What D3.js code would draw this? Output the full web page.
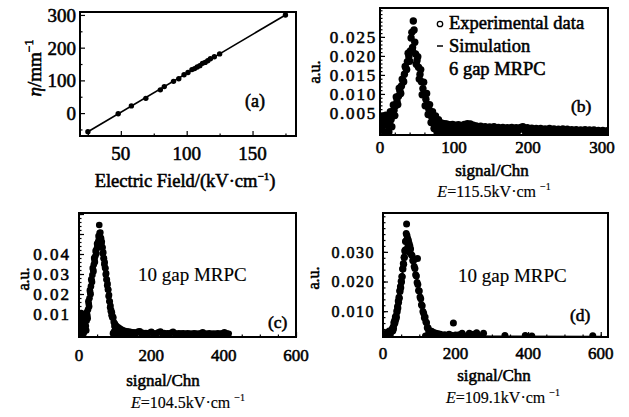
<!DOCTYPE html>
<html>
<head>
<meta charset="utf-8">
<script src="https://cdn.jsdelivr.net/npm/d3@7"></script>
<style>
  body { margin: 0; background: #fff; }
  svg text { font-family: "Liberation Serif", "Times New Roman", serif; font-weight: normal; fill: #000;
             stroke: #000; stroke-width: 0.55px; }
  svg text.light { stroke-width: 0.15px; }
</style>
</head>
<body>
<div id="chart"></div>
<script>
// ---- data: (a) gain vs field ----
var fieldKV = [25, 48, 58, 69, 80, 83, 90, 94, 98, 101, 104, 106, 108, 110, 112, 114, 116, 118, 121, 125, 175];
var etaVal  = [-57, -2, 22, 45, 71, 81, 97, 105, 117, 124, 133, 136, 141, 145, 152, 155, 160, 166, 172, 181, 300];
var fitFieldKV = [25, 175];
var fitEta     = [-57, 300];

// ---- data: (b) 6 gap MRPC, E=115.5 ----
var chnB = [0,1,2,3,4,5,6,7,8,9,
  10,11,12,13,14,15,16,17,18,19,
  20,21,22,23,24,25,26,27,28,29,
  30,31,32,33,34,35,36,37,38,39,
  40,41,42,43,44,45,46,47,48,49,
  50,51,52,53,54,55,56,57,58,59,
  60,61,62,63,64,65,66,67,68,69,
  70,71,72,73,74,75,76,77,78,79,
  80,81,82,83,84,85,86,87,88,
  90,92,94,96,98,100,102,104,106,108,
  110,112,114,116,118,120,122,124,126,128,
  130,133,136,139,142,145,148,151,154,157,
  160,163,166,169,172,175,178,181,184,187,
  190,193,196,199,202,205,208,211,214,217,
  220,223,226,229,232,235,238,241,244,247,
  250,253,256,259,262,265,268,271,274,277,
  280,283,286,289,292,295,298,301,304,307];
var expB = [0.0025,0.0008,0.0038,0.0015,0.0042,0.0028,0.0,0.0036,0.0044,0.0018,
  0.0032,0.0002,0.0,0.0025,0.0053,0.0033,0.0014,0.0044,0.0071,0.0057,
  0.0043,0.0069,0.0092,0.0081,0.0072,0.0094,0.0115,0.0107,0.0101,0.0121,
  0.0139,0.0135,0.0132,0.0152,0.0172,0.0168,0.0164,0.0185,0.0207,0.0198,
  0.0186,0.0213,0.0247,0.0262,0.0222,0.0292,0.0268,0.0236,0.0205,0.0178,
  0.0188,0.0198,0.017,0.0139,0.0151,0.0164,0.0132,0.0098,0.0114,0.0131,
  0.01,0.0069,0.0086,0.0101,0.0072,0.0046,0.006,0.0072,0.0048,0.0025,
  0.0039,0.0053,0.0032,0.0009,0.0025,0.0042,0.002,0.0,0.0017,0.0032,
  0.0015,0.0001,0.0012,0.0024,0.0012,0.0001,0.0011,0.0022,0.001,
  0.0021,0.0001,0.0019,0.0003,0.002,0.0001,0.0018,0.0004,0.0019,0.0001,
  0.0017,0.0003,0.002,0.0002,0.0022,0.0005,0.0021,0.0001,0.0018,0.0003,
  0.0016,0.0001,0.0015,0.0004,0.0014,0.0001,0.0013,0.0003,0.0014,0.0001,
  0.0012,0.0004,0.0012,0.0001,0.0011,0.0003,0.0012,0.0001,0.0011,0.0004,
  0.0012,0.0014,0.0002,0.0011,0.0001,0.001,0.0003,0.0009,0.0001,0.0009,
  0.0002,0.0008,0.0001,0.0009,0.0003,0.0008,0.0001,0.0007,0.0002,0.0008,
  0.0001,0.0007,0.0002,0.0006,0.0001,0.0006,0.0002,0.0005,0.0001,0.0006,
  0.0002,0.0005,0.0001,0.0005,0.0001,0.0004,0.0001,0.0004,0.0001,0.0003];
var simChnB = [0, 10, 15, 20, 25, 30, 35, 40, 43, 45, 48, 52, 56, 60, 64, 68, 72, 76, 82, 90, 120, 160, 200, 250, 300];
var simB = [0.002, 0.0025, 0.0035, 0.0058, 0.009, 0.0125, 0.0162, 0.02, 0.0222, 0.0228, 0.0212, 0.0175, 0.0135,
  0.0103, 0.0076, 0.0052, 0.0036, 0.0026, 0.0018, 0.0013, 0.001, 0.0007, 0.0005, 0.0004, 0.0003];

// ---- data: (c) 10 gap MRPC, E=104.5 ----
var chnC = [0,1,2,3,4,5,6,7,8,9,
  10,11,12,13,14,15,16,17,18,19,
  20,21,22,23,24,25,26,27,28,29,
  30,31,32,33,34,35,36,37,38,39,
  40,41,42,43,44,45,46,47,48,49,
  50,51,52,53,54,55,56,57,58,59,
  60,61,62,63,64,65,66,67,68,69,
  70,71,72,73,74,75,76,77,78,79,
  80,81,82,83,84,85,86,87,88,89,
  90,91,92,93,94,95,96,97,98,99,
  100,101,102,104,106,108,110,112,114,116,
  118,120,123,126,129,132,135,138,141,144,
  148,152,156,160,164,168,172,176,180,185,
  190,195,200,205,210,215,220,225,230,235,
  240,245,250,255,260,265,270,276,282,288,
  294,300,306,312,318,324,330,336,342,348,
  354,360,366,372,378,384,390,396,402,408,
  414];
var expC = [0.0,0.0052,0.0095,0.0025,0.0072,0.0002,0.0105,0.0045,0.0082,0.0015,
  0.0062,0.0098,0.0032,0.0004,0.0075,0.0048,0.0092,0.002,0.0065,0.004,
  0.0018,0.0066,0.011,0.0093,0.0078,0.0122,0.0163,0.015,0.0138,0.0179,
  0.0218,0.0208,0.0199,0.0238,0.0274,0.0267,0.026,0.0295,0.033,0.0321,
  0.0313,0.0347,0.038,0.037,0.036,0.0389,0.0416,0.0409,0.0402,0.0426,
  0.0451,0.0443,0.0434,0.0461,0.049,0.0475,0.0545,0.0505,0.049,0.0507,
  0.0478,0.0478,0.045,0.0461,0.0433,0.0432,0.0402,0.0408,0.0378,0.0378,
  0.0349,0.0359,0.0331,0.0329,0.0298,0.0303,0.0273,0.0271,0.0242,0.0251,
  0.0222,0.0221,0.0189,0.0195,0.0164,0.0162,0.0132,0.0141,0.0114,0.0119,
  0.0094,0.0107,0.0083,0.0088,0.0003,0.0082,0.006,0.0012,0.004,0.0052,
  0.0032,0.0045,0.0008,0.0038,0.0002,0.0033,0.0012,0.0028,0.0001,0.0024,
  0.0008,0.002,0.0002,0.0016,0.0005,0.0014,0.0001,0.0012,0.0003,0.001,
  0.0001,0.0008,0.0002,0.0007,0.0012,0.0014,0.0003,0.0006,0.0001,0.0005,
  0.0002,0.0006,0.0011,0.0003,0.0001,0.0004,0.0009,0.0012,0.0002,0.0005,
  0.0001,0.0003,0.0002,0.0006,0.0011,0.0004,0.0001,0.0003,0.0002,0.0004,
  0.0001,0.0003,0.0002,0.0001,0.0003,0.0002,0.0001,0.0004,0.0009,0.0002,
  0.0001,0.0003,0.0001,0.0002,0.0001,0.0003,0.0001,0.0004,0.0008,0.0003,
  0.0001];
var simChnC = [0, 15, 20, 25, 30, 35, 40, 45, 50, 55, 58, 62, 66, 70, 75, 80, 85, 90, 95, 100, 110, 130, 200, 300, 420];
var simC = [0.004, 0.005, 0.005, 0.0122, 0.0193, 0.0265, 0.033, 0.0389, 0.0437, 0.0468, 0.048, 0.0456, 0.0405,
  0.0355, 0.03, 0.0224, 0.016, 0.01, 0.0075, 0.004, 0.002, 0.001, 0.0004, 0.0002, 0.0001];

// ---- data: (d) 10 gap MRPC, E=109.1 ----
var chnD = [2,5,8,11,14,17,20,23,25,26,
  27,28,29,30,31,32,33,34,35,36,
  37,38,39,40,41,42,43,44,45,46,
  47,48,49,50,51,52,53,54,55,56,
  57,58,59,60,61,62,63,64,65,66,
  67,68,69,70,71,72,73,74,76,78,
  80,82,84,86,88,90,92,94,95,96,
  98,100,102,104,106,108,110,112,114,116,
  117,118,120,121,122,124,125,126,128,130,
  132,134,137,140,143,146,149,152,155,158,
  161,164,167,170,173,176,179,182,185,188,
  191,194,197,200,203,206,210,214,218,222,
  226,230,234,238,242,246,250,254,258,262,
  266,270,277,336,392,410,578];
var expD = [0.0015,0.0022,0.0014,0.0028,0.0018,0.0033,0.0021,0.0036,0.0032,0.0042,
  0.0034,0.0047,0.0041,0.0062,0.0056,0.0069,0.0061,0.008,0.0071,0.0085,
  0.0079,0.0101,0.0098,0.0116,0.0111,0.0134,0.0129,0.0147,0.0144,0.0169,
  0.0166,0.0183,0.0179,0.0201,0.0198,0.0217,0.0216,0.0243,0.0242,0.0261,
  0.0258,0.0282,0.0281,0.0303,0.0306,0.0335,0.0337,0.0362,0.0394,0.0355,
  0.031,0.0345,0.0312,0.0338,0.0305,0.0328,0.0298,0.032,0.031,0.0291,
  0.0288,0.0271,0.027,0.0251,0.0244,0.0223,0.0219,0.0197,0.0278,0.019,
  0.017,0.0168,0.0148,0.0142,0.0122,0.0118,0.0099,0.0093,0.0078,0.008,
  0.0016,0.0064,0.0061,0.0015,0.0044,0.0044,0.0014,0.0031,0.0035,0.0025,
  0.0016,0.0032,0.0018,0.0028,0.0015,0.0026,0.0017,0.0024,0.0014,0.0022,
  0.0015,0.0019,0.0014,0.0021,0.0015,0.0018,0.0014,0.0022,0.0015,0.0019,
  0.0015,0.006,0.0016,0.002,0.0014,0.0017,0.0021,0.0015,0.0026,0.0014,
  0.0016,0.0014,0.0018,0.0026,0.0015,0.0019,0.0022,0.0017,0.0027,0.0014,
  0.0016,0.0013,0.0026,0.0018,0.0018,0.0016,0.0017];
var simChnD = [0, 20, 30, 40, 50, 55, 60, 64, 68, 72, 80, 90, 100, 110, 120, 130, 150, 200, 300, 600];
var simD = [0.0016, 0.0022, 0.0052, 0.011, 0.0195, 0.0243, 0.0295, 0.034, 0.0335, 0.031, 0.0286, 0.0228, 0.0163,
  0.0103, 0.0057, 0.003, 0.0021, 0.0017, 0.0015, 0.0014];

// ---- tick labels ----
var aXTicks = [50, 100, 150], aYTicks = [0, 100, 200, 300];
var bXTicks = [0, 100, 200, 300], bYTicks = [0.005, 0.010, 0.015, 0.020, 0.025];
var cXTicks = [0, 200, 400, 600], cYTicks = [0.01, 0.02, 0.03, 0.04];
var dXTicks = [0, 200, 400, 600], dYTicks = [0.010, 0.020, 0.030];

// append the svg object to the body of the page
var svg = d3.select("#chart")
  .append("svg")
    .attr("width", 629)
    .attr("height", 417);

function setupPanel(id, box, xDomain, yDomain) {
  var g = svg.append("g")
    .attr("transform", "translate(" + box.left + "," + box.top + ")");
  var x = d3.scaleLinear().domain(xDomain).range([0, box.width]);
  var y = d3.scaleLinear().domain(yDomain).range([box.height, 0]);
  g.append("clipPath").attr("id", id)
    .append("rect").attr("width", box.width).attr("height", box.height);
  var plot = g.append("g").attr("clip-path", "url(#" + id + ")");
  return { g: g, plot: plot, x: x, y: y, w: box.width, h: box.height };
}

// inward ticks + heavy frame
function drawFrame(P, xMajor, xMinor, yMajor, yMinor) {
  function ticks(axis, vals, size, shift) {
    var a = P.g.append("g")
      .attr("transform", shift ? "translate(0," + P.h + ")" : null)
      .call(axis.tickValues(vals).tickSize(size).tickFormat(""));
    a.select(".domain").remove();
    a.selectAll("line").attr("stroke-width", 1.2);
  }
  ticks(d3.axisLeft(P.y), yMinor, -2.5, false);
  ticks(d3.axisLeft(P.y), yMajor, -5, false);
  ticks(d3.axisBottom(P.x), xMinor, -2.5, true);
  ticks(d3.axisBottom(P.x), xMajor, -5, true);
  P.g.append("rect")
    .attr("width", P.w).attr("height", P.h)
    .attr("fill", "none").attr("stroke", "#000").attr("stroke-width", 2);
}

function tickLabels(P, xVals, yVals, yFmt, o) {
  P.g.selectAll(null).data(xVals).enter().append("text")
    .attr("x", function(d) { return P.x(d); })
    .attr("y", o.xBase)
    .attr("text-anchor", "middle")
    .style("font-size", o.xSize + "px")
    .text(function(d) { return d; });
  P.g.selectAll(null).data(yVals).enter().append("text")
    .attr("x", o.yEnd)
    .attr("y", function(d) { return P.y(d) + o.ySize * 0.36; })
    .attr("text-anchor", "end")
    .style("font-size", o.ySize + "px")
    .style("letter-spacing", (o.ls || 0) + "px")
    .text(yFmt);
}

function histogram(P, chn, vals, simChn, sim, r) {
  var line = d3.line()
    .x(function(d, i) { return P.x(simChn[i]); })
    .y(function(d) { return P.y(d); });
  P.plot.append("path")
    .attr("d", line(sim))
    .attr("fill", "none").attr("stroke", "#000").attr("stroke-width", 2);
  P.plot.selectAll("circle").data(vals).enter().append("circle")
    .attr("cx", function(d, i) { return P.x(chn[i]); })
    .attr("cy", function(d) { return P.y(d); })
    .attr("r", r)
    .attr("fill", "#000");
}

function addText(x, y, str, size, anchor, light) {
  return svg.append("text")
    .attr("class", light ? "light" : null)
    .attr("x", x).attr("y", y)
    .attr("text-anchor", anchor || "start")
    .style("font-size", size + "px")
    .text(str);
}

function fieldLine(x, y, value) {
  var t = svg.append("text").attr("class", "light").attr("x", x).attr("y", y)
    .attr("text-anchor", "middle").style("font-size", "16px");
  t.append("tspan").style("font-style", "italic").text("E");
  t.append("tspan").text("=" + value + "kV·cm");
  t.append("tspan").attr("dx", 4).attr("dy", -7).style("font-size", "10px").text("−1");
}

function auLabel(x, y) {
  svg.append("text")
    .attr("transform", "translate(" + x + "," + y + ") rotate(-90)")
    .attr("text-anchor", "middle")
    .style("font-size", "16px")
    .text("a.u.");
}

// ---------- (a) ----------
var A = setupPanel("clipA", {left: 80, top: 12, width: 216, height: 124}, [19, 183], [-70, 309]);
var fit = d3.line()
  .x(function(d, i) { return A.x(fitFieldKV[i]); })
  .y(function(d) { return A.y(d); });
A.plot.append("path").attr("d", fit(fitEta))
  .attr("fill", "none").attr("stroke", "#000").attr("stroke-width", 1.7);
A.plot.selectAll("circle").data(etaVal).enter().append("circle")
  .attr("cx", function(d, i) { return A.x(fieldKV[i]); })
  .attr("cy", function(d) { return A.y(d); })
  .attr("r", 2.7).attr("fill", "#000");
drawFrame(A, aXTicks, [25, 75, 125, 175], aYTicks, [-50, 50, 150, 250]);
tickLabels(A, aXTicks, aYTicks, function(d) { return d; }, {xBase: 148, yEnd: -4, xSize: 19, ySize: 19});
var ta = svg.append("text").attr("x", 185).attr("y", 187)
  .attr("text-anchor", "middle").style("font-size", "18.5px");
ta.append("tspan").text("Electric Field/(kV·cm");
ta.append("tspan").attr("dy", -7).style("font-size", "11px").text("−1");
ta.append("tspan").attr("dy", 7).text(")");
var ty = svg.append("text").attr("transform", "translate(41,68) rotate(-90)")
  .attr("text-anchor", "middle").style("font-size", "19px");
ty.append("tspan").style("font-style", "italic").text("η");
ty.append("tspan").text("/mm");
ty.append("tspan").attr("dy", -8).style("font-size", "12px").text("−1");
addText(245, 107, "(a)", 18);

// ---------- (b) ----------
var B = setupPanel("clipB", {left: 380, top: 8, width: 228, height: 127}, [0, 308], [-0.0008, 0.0326]);
histogram(B, chnB, expB, simChnB, simB, 3.7);
drawFrame(B, bXTicks, d3.range(20, 308, 20), bYTicks, d3.range(0, 0.0326, 0.001));
tickLabels(B, bXTicks, bYTicks, d3.format(".3f"), {xBase: 145, yEnd: -3, xSize: 17, ySize: 17, ls: 1.8});
addText(492, 176, "signal/Chn", 17, "middle");
fieldLine(494, 197, "115.5");
auLabel(320, 72);
svg.append("circle").attr("cx", 440).attr("cy", 24).attr("r", 2.7)
  .attr("fill", "none").attr("stroke", "#000").attr("stroke-width", 1.3);
addText(449, 29, "Experimental data", 18.5);
svg.append("line").attr("x1", 437).attr("x2", 443).attr("y1", 46).attr("y2", 46)
  .attr("stroke", "#000").attr("stroke-width", 1.5);
addText(449, 52, "Simulation", 18.5);
addText(449, 75, "6 gap MRPC", 18.5);
addText(571, 112, "(b)", 17.5);

// ---------- (c) ----------
var C = setupPanel("clipC", {left: 79, top: 213, width: 217, height: 124}, [0, 600], [-0.0015, 0.0605]);
histogram(C, chnC, expC, simChnC, simC, 3.3);
drawFrame(C, cXTicks, d3.range(50, 600, 50), d3.range(0, 0.061, 0.01), d3.range(0, 0.0605, 0.002));
tickLabels(C, cXTicks, cYTicks, d3.format(".2f"), {xBase: 148, yEnd: -8, xSize: 17, ySize: 17, ls: 2});
addText(163, 386, "signal/Chn", 17, "middle");
fieldLine(188, 408, "104.5");
auLabel(29, 279);
addText(138, 281, "10 gap MRPC", 19, "start", true);
addText(268, 328, "(c)", 17.5);

// ---------- (d) ----------
var D = setupPanel("clipD", {left: 383, top: 213, width: 225, height: 124}, [0, 620], [0.0013, 0.0431]);
histogram(D, chnD, expD, simChnD, simD, 3.5);
drawFrame(D, dXTicks, d3.range(50, 620, 50), dYTicks, d3.range(0.002, 0.043, 0.002));
tickLabels(D, dXTicks, dYTicks, d3.format(".3f"), {xBase: 146, yEnd: -8, xSize: 17, ySize: 16, ls: 1.5});
addText(494, 381, "signal/Chn", 17, "middle");
fieldLine(503, 403, "109.1");
auLabel(319, 278);
addText(458, 282, "10 gap MRPC", 19, "start", true);
addText(570, 321, "(d)", 17.5);
</script>
</body>
</html>
